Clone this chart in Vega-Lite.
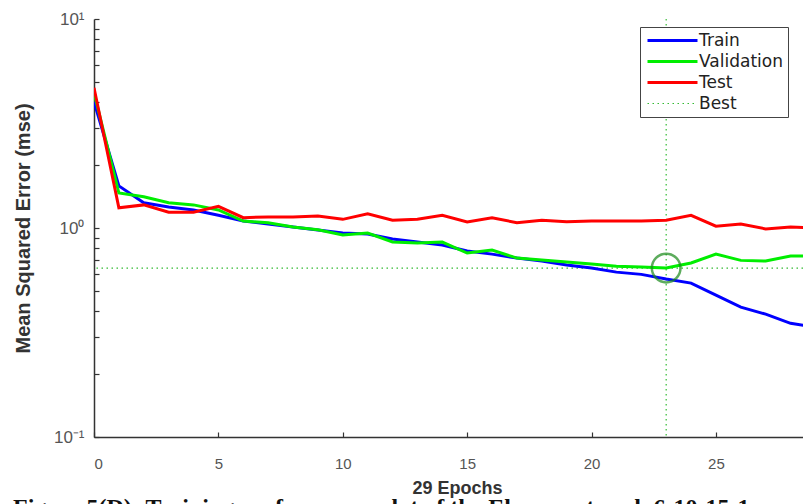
{
  "$schema": "https://vega.github.io/schema/vega-lite/v6.json",
  "width": 709,
  "height": 418,
  "autosize": {"type": "none"},
  "padding": {"left": 94, "top": 19, "right": 0, "bottom": 67},
  "background": "white",
  "config": {
    "view": {"stroke": null},
    "font": "Liberation Sans",
    "axis": {"domainColor": "#333333", "tickColor": "#333333", "labelColor": "#555555", "titleColor": "#333333", "labelFont": "Liberation Sans", "titleFont": "Liberation Sans", "grid": false}
  },
  "title": {
    "text": "Figure 5(D): Training performance plot of the Elman network 6-10-15-1",
    "orient": "bottom",
    "anchor": "start",
    "frame": "group",
    "dx": -81,
    "offset": -1,
    "font": "Liberation Serif",
    "fontSize": 24,
    "fontWeight": "bold",
    "color": "#111111"
  },
  "datasets": {
    "perf": [
      {"epoch": 0, "series": "Train", "mse": 4.02},
      {"epoch": 1, "series": "Train", "mse": 1.59},
      {"epoch": 2, "series": "Train", "mse": 1.32},
      {"epoch": 3, "series": "Train", "mse": 1.26},
      {"epoch": 4, "series": "Train", "mse": 1.22},
      {"epoch": 5, "series": "Train", "mse": 1.15},
      {"epoch": 6, "series": "Train", "mse": 1.08},
      {"epoch": 7, "series": "Train", "mse": 1.045},
      {"epoch": 8, "series": "Train", "mse": 1.01},
      {"epoch": 9, "series": "Train", "mse": 0.978},
      {"epoch": 10, "series": "Train", "mse": 0.946},
      {"epoch": 11, "series": "Train", "mse": 0.936},
      {"epoch": 12, "series": "Train", "mse": 0.886},
      {"epoch": 13, "series": "Train", "mse": 0.857},
      {"epoch": 14, "series": "Train", "mse": 0.829},
      {"epoch": 15, "series": "Train", "mse": 0.776},
      {"epoch": 16, "series": "Train", "mse": 0.75},
      {"epoch": 17, "series": "Train", "mse": 0.718},
      {"epoch": 18, "series": "Train", "mse": 0.695},
      {"epoch": 19, "series": "Train", "mse": 0.665},
      {"epoch": 20, "series": "Train", "mse": 0.643},
      {"epoch": 21, "series": "Train", "mse": 0.615},
      {"epoch": 22, "series": "Train", "mse": 0.6},
      {"epoch": 23, "series": "Train", "mse": 0.57},
      {"epoch": 24, "series": "Train", "mse": 0.545},
      {"epoch": 25, "series": "Train", "mse": 0.477},
      {"epoch": 26, "series": "Train", "mse": 0.418},
      {"epoch": 27, "series": "Train", "mse": 0.387},
      {"epoch": 28, "series": "Train", "mse": 0.35},
      {"epoch": 29, "series": "Train", "mse": 0.335},
      {"epoch": 0, "series": "Validation", "mse": 4.44},
      {"epoch": 1, "series": "Validation", "mse": 1.47},
      {"epoch": 2, "series": "Validation", "mse": 1.41},
      {"epoch": 3, "series": "Validation", "mse": 1.32},
      {"epoch": 4, "series": "Validation", "mse": 1.29},
      {"epoch": 5, "series": "Validation", "mse": 1.22},
      {"epoch": 6, "series": "Validation", "mse": 1.08},
      {"epoch": 7, "series": "Validation", "mse": 1.06},
      {"epoch": 8, "series": "Validation", "mse": 1.01},
      {"epoch": 9, "series": "Validation", "mse": 0.98},
      {"epoch": 10, "series": "Validation", "mse": 0.926},
      {"epoch": 11, "series": "Validation", "mse": 0.946},
      {"epoch": 12, "series": "Validation", "mse": 0.857},
      {"epoch": 13, "series": "Validation", "mse": 0.847},
      {"epoch": 14, "series": "Validation", "mse": 0.857},
      {"epoch": 15, "series": "Validation", "mse": 0.759},
      {"epoch": 16, "series": "Validation", "mse": 0.784},
      {"epoch": 17, "series": "Validation", "mse": 0.718},
      {"epoch": 18, "series": "Validation", "mse": 0.702},
      {"epoch": 19, "series": "Validation", "mse": 0.687},
      {"epoch": 20, "series": "Validation", "mse": 0.672},
      {"epoch": 21, "series": "Validation", "mse": 0.657},
      {"epoch": 22, "series": "Validation", "mse": 0.65},
      {"epoch": 23, "series": "Validation", "mse": 0.643},
      {"epoch": 24, "series": "Validation", "mse": 0.68},
      {"epoch": 25, "series": "Validation", "mse": 0.75},
      {"epoch": 26, "series": "Validation", "mse": 0.7},
      {"epoch": 27, "series": "Validation", "mse": 0.695},
      {"epoch": 28, "series": "Validation", "mse": 0.734},
      {"epoch": 29, "series": "Validation", "mse": 0.735},
      {"epoch": 0, "series": "Test", "mse": 4.69},
      {"epoch": 1, "series": "Test", "mse": 1.25},
      {"epoch": 2, "series": "Test", "mse": 1.29},
      {"epoch": 3, "series": "Test", "mse": 1.19},
      {"epoch": 4, "series": "Test", "mse": 1.19},
      {"epoch": 5, "series": "Test", "mse": 1.27},
      {"epoch": 6, "series": "Test", "mse": 1.12},
      {"epoch": 7, "series": "Test", "mse": 1.13},
      {"epoch": 8, "series": "Test", "mse": 1.13},
      {"epoch": 9, "series": "Test", "mse": 1.14},
      {"epoch": 10, "series": "Test", "mse": 1.1},
      {"epoch": 11, "series": "Test", "mse": 1.17},
      {"epoch": 12, "series": "Test", "mse": 1.09},
      {"epoch": 13, "series": "Test", "mse": 1.1},
      {"epoch": 14, "series": "Test", "mse": 1.15},
      {"epoch": 15, "series": "Test", "mse": 1.07},
      {"epoch": 16, "series": "Test", "mse": 1.12},
      {"epoch": 17, "series": "Test", "mse": 1.06},
      {"epoch": 18, "series": "Test", "mse": 1.09},
      {"epoch": 19, "series": "Test", "mse": 1.07},
      {"epoch": 20, "series": "Test", "mse": 1.08},
      {"epoch": 21, "series": "Test", "mse": 1.08},
      {"epoch": 22, "series": "Test", "mse": 1.08},
      {"epoch": 23, "series": "Test", "mse": 1.09},
      {"epoch": 24, "series": "Test", "mse": 1.15},
      {"epoch": 25, "series": "Test", "mse": 1.02},
      {"epoch": 26, "series": "Test", "mse": 1.045},
      {"epoch": 27, "series": "Test", "mse": 0.99},
      {"epoch": 28, "series": "Test", "mse": 1.01},
      {"epoch": 29, "series": "Test", "mse": 1.0}
    ],
    "best": [
      {"series": "Best", "epoch": 23, "mse": 0.643}
    ]
  },
  "layer": [
    {
      "data": {"name": "best"},
      "mark": {"type": "rule", "strokeWidth": 1.2, "strokeDash": [1.5, 3.5], "clip": true},
      "encoding": {
        "y": {"field": "mse", "type": "quantitative"},
        "color": {"field": "series", "type": "nominal"}
      }
    },
    {
      "data": {"name": "best"},
      "mark": {"type": "rule", "strokeWidth": 1.2, "strokeDash": [1.5, 3.5], "clip": true},
      "encoding": {
        "x": {"field": "epoch", "type": "quantitative"},
        "color": {"field": "series", "type": "nominal"}
      }
    },
    {
      "data": {"name": "perf"},
      "mark": {"type": "line", "strokeWidth": 3, "clip": true},
      "encoding": {
        "x": {
          "field": "epoch", "type": "quantitative",
          "scale": {"domain": [0, 28.5], "nice": false, "zero": false},
          "axis": {
            "values": [0, 5, 10, 15, 20, 25],
            "title": "29 Epochs",
            "titleFontSize": 18,
            "titleFontWeight": "bold",
            "titleX": 363,
            "titlePadding": 8,
            "labelFontSize": 15,
            "labelPadding": 24,
            "tickSize": -5,
            "tickWidth": 1.2,
            "domainWidth": 1.5
          }
        },
        "y": {
          "field": "mse", "type": "quantitative",
          "scale": {"type": "log", "domain": [0.1, 10], "nice": false},
          "axis": {
            "values": [0.1, 0.2, 0.3, 0.4, 0.5, 0.6, 0.7, 0.8, 0.9, 1, 2, 3, 4, 5, 6, 7, 8, 9, 10],
            "labelExpr": "abs(datum.value - 10) < 0.001 ? '10¹' : abs(datum.value - 1) < 0.001 ? '10⁰' : abs(datum.value - 0.1) < 0.0001 ? '10⁻¹' : ''",
            "title": "Mean Squared Error  (mse)",
            "titleFontSize": 20,
            "titleFontWeight": "bold",
            "titlePadding": 20,
            "labelFontSize": 17,
            "labelPadding": 15,
            "tickSize": -5,
            "tickWidth": 1.2,
            "domainWidth": 1.5
          }
        },
        "color": {
          "field": "series", "type": "nominal",
          "scale": {"domain": ["Train", "Validation", "Test", "Best"], "range": ["#0000ff", "#00ee00", "#ff0000", "#33bb33"]},
          "legend": {
            "title": null,
            "orient": "none",
            "legendX": 546,
            "legendY": 8,
            "symbolType": "stroke",
            "symbolSize": 2500,
            "symbolStrokeWidth": 3,
            "symbolOffset": 19,
            "labelFontSize": 17,
            "labelFont": "DejaVu Sans",
            "labelColor": "#222222",
            "labelOffset": 18,
            "rowPadding": 3,
            "padding": 5,
            "strokeColor": "#444444",
            "fillColor": "white",
            "encode": {
              "symbols": {
                "update": {
                  "strokeWidth": {"signal": "datum.value == 'Best' ? 1.2 : 3"},
                  "strokeDash": {"signal": "datum.value == 'Best' ? [1.5, 3.5] : [1, 0]"}
                }
              }
            }
          }
        }
      }
    },
    {
      "data": {"name": "best"},
      "mark": {"type": "point", "shape": "circle", "size": 820, "filled": false, "stroke": "#1a8a1a", "strokeWidth": 2.5, "clip": true},
      "encoding": {
        "x": {"field": "epoch", "type": "quantitative"},
        "y": {"field": "mse", "type": "quantitative"}
      }
    }
  ]
}
